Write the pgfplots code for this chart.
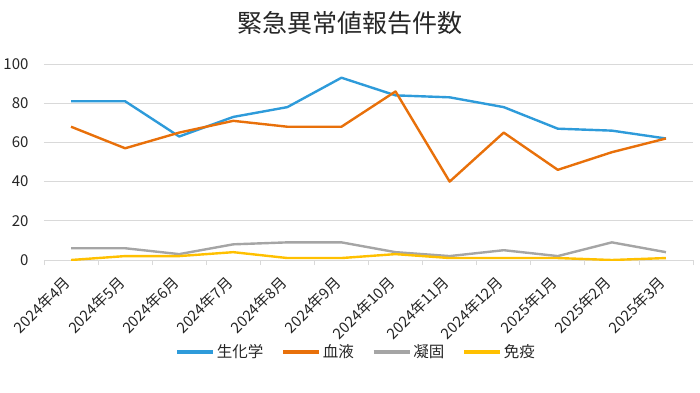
\documentclass[border=0pt]{standalone}
\usepackage{pgfplots}
\pgfplotsset{compat=1.18}
\usepackage{fontspec}
\setmainfont{Noto Sans CJK JP}
\definecolor{cBlue}{HTML}{2E9BDA}
\definecolor{cOrange}{HTML}{E8700A}
\definecolor{cGray}{HTML}{A5A5A5}
\definecolor{cYellow}{HTML}{FFC000}
\definecolor{cGrid}{HTML}{D9D9D9}
\begin{document}
\begin{tikzpicture}[x=1pt,y=1pt]
\useasboundingbox (0,0) rectangle (700,392);
\node[font=\fontsize{25}{27}\selectfont, text=black!85] at (350,369) {緊急異常値報告件数};
\begin{axis}[
  at={(44pt,132pt)}, anchor=south west,
  scale only axis, width=649pt, height=196pt,
  xmin=-0.5, xmax=11.5, ymin=0, ymax=100,
  ytick={0,20,...,100},
  xtick={0,...,11},
  xticklabels={2024年4月,2024年5月,2024年6月,2024年7月,2024年8月,2024年9月,2024年10月,2024年11月,2024年12月,2025年1月,2025年2月,2025年3月},
  minor xtick={-0.5,0.5,...,11.5},
  major tick length=0pt,
  minor tick length=5pt,
  tick align=outside,
  minor tick style={cGrid, line width=0.75pt},
  ymajorgrids, major grid style={cGrid, line width=0.9pt},
  axis x line*=bottom, axis y line*=left,
  y axis line style={draw=none},
  x axis line style={cGrid, line width=0.9pt, -},
  xticklabel style={xshift=-1pt, yshift=-17pt, rotate=45, anchor=east, font=\fontsize{15}{16}\selectfont, text=black!85},
  yticklabel style={font=\fontsize{15}{16}\selectfont, text=black!85, xshift=-12pt},
  /pgf/number format/assume math mode=true,
  legend columns=4,
  legend style={at={(0.481,-0.469)}, anchor=center, draw=none, fill=none,
    font=\fontsize{15.5}{16}\selectfont, text=black!85,
    /tikz/every even column/.append style={column sep=16pt}},
  legend image code/.code={\draw[#1, line width=3.5pt] (0pt,0pt) -- (36pt,0pt);},
  every axis plot/.append style={line width=2.4pt, line join=round, mark=none},
]
\addplot[cBlue] coordinates {(0,81)(1,81)(2,63)(3,73)(4,78)(5,93)(6,84)(7,83)(8,78)(9,67)(10,66)(11,62)};
\addlegendentry{生化学}
\addplot[cOrange] coordinates {(0,68)(1,57)(2,65)(3,71)(4,68)(5,68)(6,86)(7,40)(8,65)(9,46)(10,55)(11,62)};
\addlegendentry{血液}
\addplot[cGray] coordinates {(0,6)(1,6)(2,3)(3,8)(4,9)(5,9)(6,4)(7,2)(8,5)(9,2)(10,9)(11,4)};
\addlegendentry{凝固}
\addplot[cYellow] coordinates {(0,0)(1,2)(2,2)(3,4)(4,1)(5,1)(6,3)(7,1)(8,1)(9,1)(10,0)(11,1)};
\addlegendentry{免疫}
\end{axis}
\end{tikzpicture}
\end{document}
